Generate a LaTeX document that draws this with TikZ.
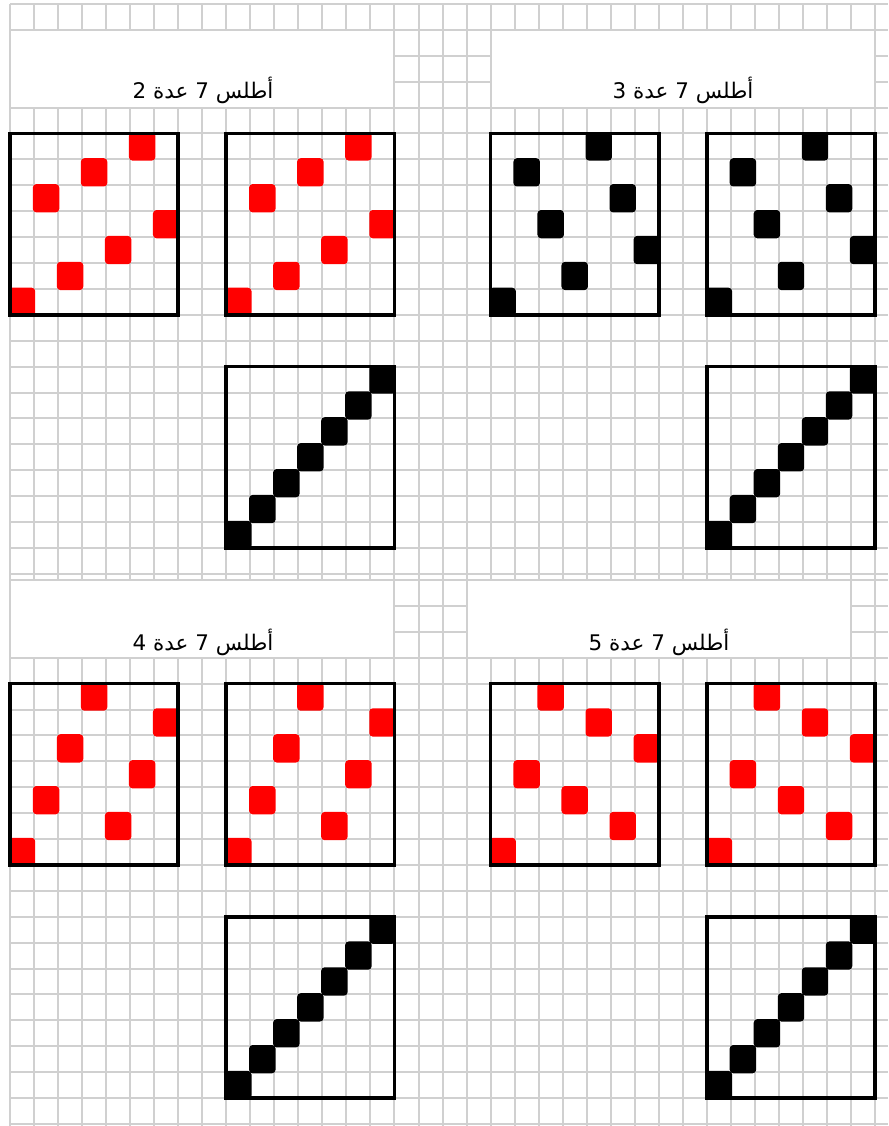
\documentclass[tikz,border=0pt]{standalone}
\usepackage{fontspec}
\newfontfamily\arabicfont[Script=Arabic]{DejaVu Sans}
\TeXXeTstate=1
\definecolor{gridgray}{RGB}{208,208,208}
\definecolor{cellred}{RGB}{255,0,0}
\def\cw{24.03}
\def\rh{25.9}
\newcommand\atlasbox[4]{%
  \foreach \r in {0,...,6}{%
    \pgfmathtruncatemacro\cc{mod(#4*\r,7)}%
    \fill[#3] ({10+(#1+\cc)*\cw-1.2},{#2+(6-\r)*\rh-1.2}) rectangle ++({\cw+2.4},{\rh+2.4});
  }%
  \draw[boxframe] ({10+#1*\cw},#2) rectangle ++({7*\cw},{7*\rh});
}
\begin{document}
\begin{tikzpicture}[x=1pt,y=-1pt,
  gridline/.style={draw=gridgray,line width=2pt},
  boxframe/.style={draw=black,line width=3.7pt},
  redcell/.style={fill=cellred,rounded corners=3.5pt},
  blackcell/.style={fill=black,rounded corners=3.5pt},
  titlefill/.style={fill=white},
  titletext/.style={font=\arabicfont\fontsize{21.5}{25}\selectfont,anchor=base,inner sep=0pt}]
\useasboundingbox (0,0) rectangle (888,1126);
\fill[white] (0,0) rectangle (888,1126);
% grid
\foreach \k in {0,...,22} \draw[gridline] (10,{4+\k*\rh}) -- (888,{4+\k*\rh});
\foreach \k in {0,...,21} \draw[gridline] (10,{580+\k*\rh}) -- (888,{580+\k*\rh});
\foreach \c in {0,...,36} \draw[gridline] ({10+\c*\cw},4) -- ({10+\c*\cw},1126);
% merged title cells
\fill[titlefill] ({10+1},{4+\rh+1}) rectangle ({10+16*\cw-1},{4+4*\rh-1});
\fill[titlefill] ({10+20*\cw+1},{4+\rh+1}) rectangle ({10+36*\cw-1},{4+4*\rh-1});
\fill[titlefill] ({10+1},{580+1}) rectangle ({10+16*\cw-1},{580+3*\rh-1});
\fill[titlefill] ({10+19*\cw+1},{580+1}) rectangle ({10+35*\cw-1},{580+3*\rh-1});
% titles
\node[titletext] (t2) at (203,99) {\beginR أطلس 7 عدة 2\endR};
\node[titletext] (t3) at (683,99) {\beginR أطلس 7 عدة 3\endR};
\node[titletext] (t4) at (203,650) {\beginR أطلس 7 عدة 4\endR};
\node[titletext] (t5) at (659,650) {\beginR أطلس 7 عدة 5\endR};
% top half
\atlasbox{0}{133.5}{redcell}{2}
\atlasbox{9}{133.5}{redcell}{2}
\atlasbox{20}{133.5}{blackcell}{3}
\atlasbox{29}{133.5}{blackcell}{3}
\atlasbox{9}{366.6}{blackcell}{1}
\atlasbox{29}{366.6}{blackcell}{1}
% bottom half
\atlasbox{0}{683.6}{redcell}{4}
\atlasbox{9}{683.6}{redcell}{4}
\atlasbox{20}{683.6}{redcell}{5}
\atlasbox{29}{683.6}{redcell}{5}
\atlasbox{9}{916.7}{blackcell}{1}
\atlasbox{29}{916.7}{blackcell}{1}
\end{tikzpicture}
\end{document}
